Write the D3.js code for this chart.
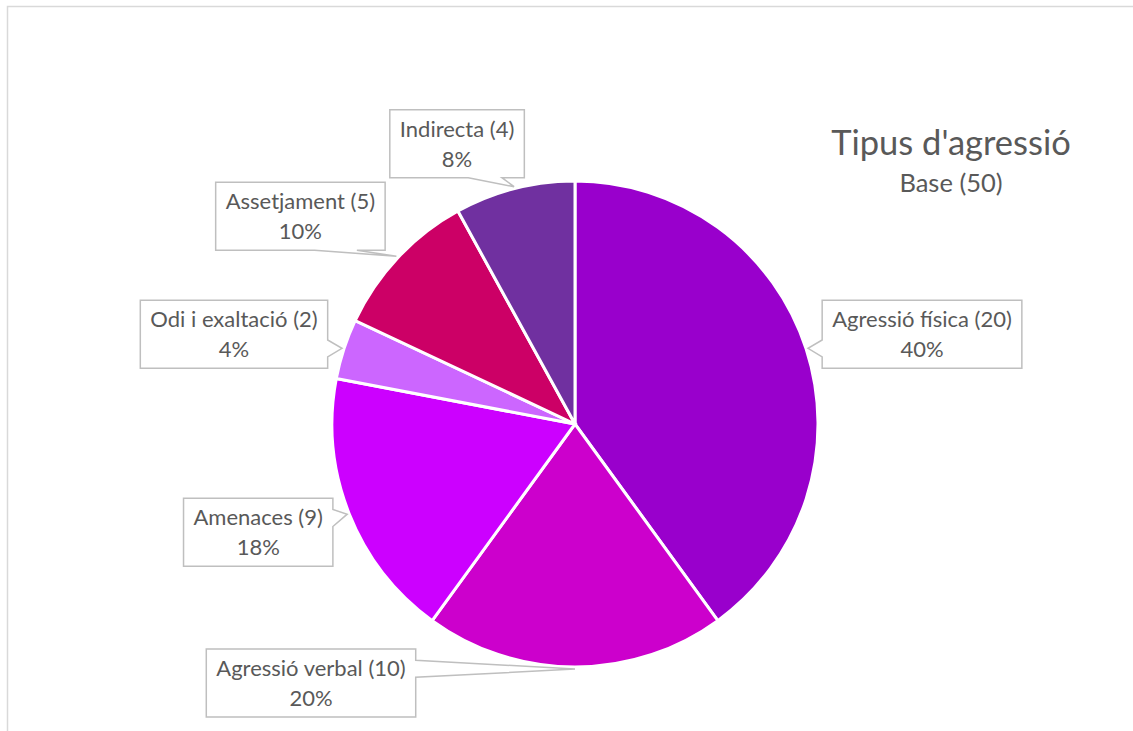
<!DOCTYPE html>
<meta charset="utf-8">
<style>
body {
  margin: 0;
  background: #fff;
  font-family: Lato, "Open Sans", sans-serif;
}
.slice {
  stroke: #fff;
  stroke-width: 3px;
}
.callout path {
  fill: #fff;
  stroke: #bfbfbf;
  stroke-width: 1.5px;
}
.callout text, .title {
  fill: #595959;
  text-anchor: middle;
}
</style>
<body>
<script src="https://d3js.org/d3.v7.min.js"></script>
<script>

// data
const categories = ["Agressió física", "Agressió verbal", "Amenaces", "Odi i exaltació", "Assetjament", "Indirecta"];
const counts = [20, 10, 9, 2, 5, 4];
const chartTitle = "Tipus d'agressió";

// styling / layout
const sliceColors = ["#9900cc", "#cc00cc", "#cc00ff", "#cc66ff", "#cc0066", "#7030a0"];
// callout box centre relative to the pointer tip
const labelOffsets = [[114, -14], [-264, 14], [-89, 18], [-108, -14], [-96, -40], [-57, -43]];

const width = 1133;
const height = 731;
const cx = 575, cy = 424;
const radius = 243;
const boxH = 68;

const total = d3.sum(counts);
const pct = d3.format(".0%");

const data = categories.map((c, i) => ({name: c, value: counts[i], offset: labelOffsets[i]}));

const color = d3.scaleOrdinal(categories, sliceColors);

const svg = d3.select("body").append("svg")
    .attr("width", width)
    .attr("height", height);

// chart area frame (runs off right/bottom of the picture)
svg.append("rect")
    .attr("x", 7.5)
    .attr("y", 6.5)
    .attr("width", width + 20)
    .attr("height", height + 20)
    .attr("fill", "#fff")
    .attr("stroke", "#d9d9d9")
    .attr("stroke-width", 1.5);

const pie = d3.pie()
    .value(d => d.value)
    .sort(null);

const arc = d3.arc()
    .innerRadius(0)
    .outerRadius(radius);

const arcs = pie(data);

const g = svg.append("g")
    .attr("transform", `translate(${cx},${cy})`);

g.selectAll("path.slice")
  .data(arcs)
  .enter()
  .append("path")
    .attr("class", "slice")
    .attr("d", arc)
    .attr("fill", d => color(d.data.name));

// title
svg.append("text")
    .attr("class", "title")
    .attr("x", 951)
    .attr("y", 155)
    .style("font-size", "34.5px")
    .text(chartTitle);

svg.append("text")
    .attr("class", "title")
    .attr("x", 951)
    .attr("y", 192)
    .style("font-size", "25.5px")
    .text(`Base (${total})`);

// Excel-like wedge callout
function calloutPath(x0, y0, w, h, tx, ty) {
  const mx = x0 + w / 2, my = y0 + h / 2;
  const dx = tx - mx, dy = ty - my;
  const x1 = x0, x2 = x0 + w, y1 = y0, y2 = y0 + h;
  let pts;
  if (Math.abs(dx) / w > Math.abs(dy) / h) {
    const a = dy < 0 ? y0 + h / 6 : y0 + h * 7 / 12;
    const b = dy < 0 ? y0 + h * 5 / 12 : y0 + h * 5 / 6;
    if (dx < 0) pts = [[x1, y1], [x2, y1], [x2, y2], [x1, y2], [x1, b], [tx, ty], [x1, a]];
    else pts = [[x1, y1], [x2, y1], [x2, a], [tx, ty], [x2, b], [x2, y2], [x1, y2]];
  } else {
    const a = dx < 0 ? x0 + w / 6 : x0 + w * 7 / 12;
    const b = dx < 0 ? x0 + w * 5 / 12 : x0 + w * 5 / 6;
    if (dy < 0) pts = [[x1, y1], [a, y1], [tx, ty], [b, y1], [x2, y1], [x2, y2], [x1, y2]];
    else pts = [[x1, y1], [x2, y1], [x2, y2], [b, y2], [tx, ty], [a, y2], [x1, y2]];
  }
  return d3.line()(pts) + "Z";
}

const callouts = svg.selectAll("g.callout")
  .data(arcs)
  .enter()
  .append("g")
    .attr("class", "callout");

callouts.each(function(d) {
  const el = d3.select(this);
  const mid = (d.startAngle + d.endAngle) / 2;
  const tx = cx + (radius + 2) * Math.sin(mid);
  const ty = cy - (radius + 2) * Math.cos(mid);
  const bx = tx + d.data.offset[0];
  const by = ty + d.data.offset[1];

  const path = el.append("path");

  const t1 = el.append("text")
      .attr("x", bx)
      .attr("y", by - boxH / 2 + 27)
      .style("font-size", "22px")
      .text(`${d.data.name} (${d.data.value})`);

  el.append("text")
      .attr("x", bx)
      .attr("y", by - boxH / 2 + 57)
      .style("font-size", "22px")
      .text(pct(d.data.value / total));

  const w = t1.node().getComputedTextLength() + 20;
  path.attr("d", calloutPath(bx - w / 2, by - boxH / 2, w, boxH, tx, ty));
});

</script>
